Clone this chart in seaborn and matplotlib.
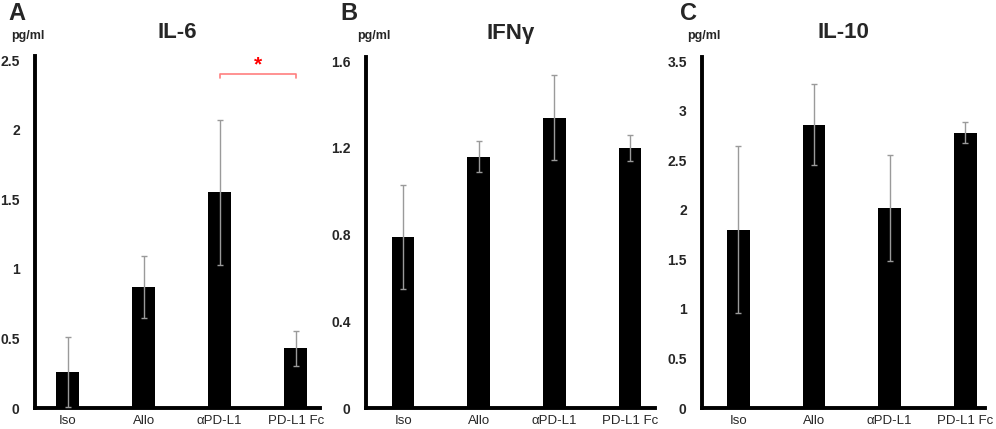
import numpy as np
import pandas as pd
import matplotlib
matplotlib.use("Agg")
import matplotlib.pyplot as plt
import seaborn as sns

# ---------------------------------------------------------------------------
# Data
# ---------------------------------------------------------------------------
groups = ["Iso", "Allo", "αPD-L1", "PD-L1 Fc"]

il6_mean = [0.26, 0.87, 1.55, 0.43]
il6_err = [0.25, 0.22, 0.52, 0.125]

ifng_mean = [0.79, 1.16, 1.34, 1.20]
ifng_err = [0.24, 0.07, 0.195, 0.06]

il10_mean = [1.80, 2.86, 2.02, 2.78]
il10_err = [0.845, 0.41, 0.535, 0.105]

panels = [
    ("A", "IL-6", il6_mean, il6_err, [0, 0.5, 1, 1.5, 2, 2.5], ["0", "0.5", "1", "1.5", "2", "2.5"]),
    ("B", "IFNγ", ifng_mean, ifng_err, [0, 0.4, 0.8, 1.2, 1.6], ["0", "0.4", "0.8", "1.2", "1.6"]),
    ("C", "IL-10", il10_mean, il10_err, [0, 0.5, 1, 1.5, 2, 2.5, 3, 3.5],
     ["0", "0.5", "1", "1.5", "2", "2.5", "3", "3.5"]),
]

# ---------------------------------------------------------------------------
# Figure
# ---------------------------------------------------------------------------
sns.set_style("white")
plt.rcParams["font.family"] = ["Liberation Sans", "DejaVu Sans"]

W, H = 996, 429
fig = plt.figure(figsize=(W / 100, H / 100), dpi=100)

# axes boxes in pixels: (left, right, top, bottom)
boxes = [(35, 320, 56, 408), (366, 655, 57, 408), (702, 985, 57, 408)]
xlims = [(-0.43, 3.32), (-0.49, 3.33), (-0.48, 3.26)]
letter_x = [8, 340, 680]
unit_x = [28, 374, 704]

for (letter, title, mean, err, ticks, ticklabels), (l, r, t, b), xl, lx, ux in zip(
        panels, boxes, xlims, letter_x, unit_x):
    ax = fig.add_axes([l / W, 1 - b / H, (r - l) / W, (b - t) / H])
    df = pd.DataFrame({"group": groups, "value": mean})
    sns.barplot(data=df, x="group", y="value", color="black", width=0.3,
                saturation=1, errorbar=None, ax=ax, linewidth=0)
    ax.errorbar(np.arange(len(groups)), mean, yerr=err, fmt="none",
                ecolor="#9a9a9a", elinewidth=1, capsize=2, capthick=1, zorder=3)

    top = ticks[-1]
    ax.set_ylim(0, top * 1.012)
    ax.set_xlim(*xl)
    ax.set_yticks(ticks)
    ax.set_yticklabels(ticklabels, fontweight="bold", fontsize=10)
    ax.tick_params(axis="y", direction="out", length=8, width=2.5, pad=3)
    ax.tick_params(axis="x", length=0, labelsize=9.5, pad=5)
    ax.set_xlabel("")
    ax.set_ylabel("")
    for s in ["top", "right"]:
        ax.spines[s].set_visible(False)
    for s in ["left", "bottom"]:
        ax.spines[s].set_linewidth(2.8)
        ax.spines[s].set_color("black")

    cx = (l + r) / 2
    fig.text(cx / W, 1 - 33 / H, title, ha="center", va="center",
             fontsize=16, fontweight="bold")
    fig.text(lx / W, 1 - 13 / H, letter, ha="left", va="center",
             fontsize=17, fontweight="bold")
    fig.text(ux / W, 1 - 36 / H, "pg/ml", ha="center", va="center",
             fontsize=9, fontweight="bold")

    if letter == "A":
        # significance bracket between αPD-L1 and PD-L1 Fc
        y0, y1 = 2.37, 2.40
        ax.plot([2, 2, 3, 3], [y0, y1, y1, y0], color="#ff7f7f", lw=1.2,
                clip_on=False)
        ax.text(2.5, 2.395, "*", color="red", ha="center", va="bottom",
                fontsize=15, fontweight="bold")

fig.savefig("out.png", dpi=100)
